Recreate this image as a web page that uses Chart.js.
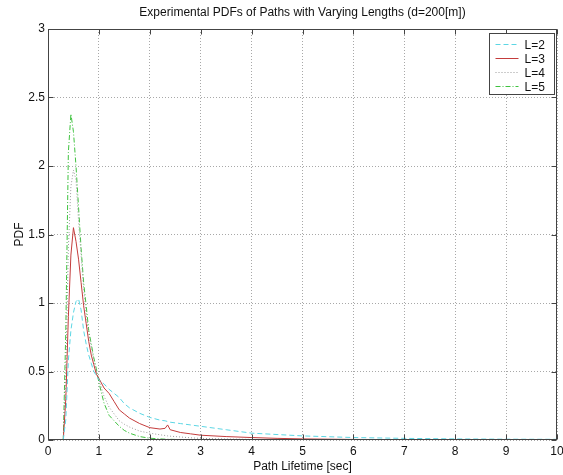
<!DOCTYPE html>
<html>
<head>
<meta charset="utf-8">
<script src="https://cdn.jsdelivr.net/npm/chart.js@4/dist/chart.umd.min.js"></script>
<style>
  html, body { margin: 0; padding: 0; background: #fff; }
  #wrap { width: 563px; height: 475px; }
</style>
</head>
<body>
<div id="wrap"><canvas id="chart-pdf" width="563" height="475"></canvas></div>
<script>
// ── Data ──────────────────────────────────────────────────────
const lifetime = [0.3, 0.35, 0.4, 0.45, 0.5, 0.55, 0.6, 0.65, 0.7, 0.75, 0.8, 0.85, 0.9, 0.95,
  1.0, 1.1, 1.2, 1.3, 1.4, 1.5, 1.6, 1.8, 2.0, 2.2, 2.3, 2.35, 2.4, 2.6, 2.8, 3.0,
  3.5, 4.0, 4.5, 5.0, 5.5, 6.0, 7.0, 8.0, 9.0, 10.0];

const pdfL2 = [0, 0.15, 0.58, 0.8, 0.93, 1.01, 1.03, 0.95, 0.8, 0.7, 0.62, 0.56, 0.5, 0.47,
  0.44, 0.41, 0.37, 0.34, 0.31, 0.265, 0.235, 0.195, 0.165, 0.145, 0.14, 0.135, 0.13, 0.12, 0.11, 0.1,
  0.075, 0.05, 0.04, 0.03, 0.024, 0.018, 0.012, 0.008, 0.006, 0.005];

const pdfL3 = [0, 0.3, 0.9, 1.35, 1.55, 1.45, 1.32, 1.15, 0.98, 0.85, 0.72, 0.62, 0.55, 0.48,
  0.45, 0.38, 0.34, 0.28, 0.22, 0.19, 0.16, 0.12, 0.09, 0.08, 0.085, 0.11, 0.075, 0.055, 0.045, 0.035,
  0.025, 0.018, 0.012, 0.008, 0.006, 0.004, 0.003, 0.002, 0.002, 0.001];

const pdfL4 = [0, 0.5, 1.4, 1.85, 1.97, 1.9, 1.6, 1.35, 1.1, 0.92, 0.78, 0.68, 0.58, 0.5,
  0.44, 0.32, 0.24, 0.19, 0.14, 0.115, 0.095, 0.065, 0.05, 0.038, 0.033, 0.03, 0.028, 0.022, 0.016, 0.012,
  0.007, 0.004, 0.003, 0.002, 0.001, 0.001, 0, 0, 0, 0];

const pdfL5 = [0, 0.8, 2.1, 2.38, 2.25, 2.0, 1.7, 1.4, 1.15, 0.98, 0.8, 0.7, 0.6, 0.52,
  0.42, 0.27, 0.18, 0.14, 0.1, 0.07, 0.05, 0.025, 0.013, 0.008, 0.006, 0.005, 0.005, 0.003, 0.002, 0.001,
  0, 0, 0, 0, 0, 0, 0, 0, 0, 0];

const seriesLabels = ['L=2', 'L=3', 'L=4', 'L=5'];
const xTicks = [0, 1, 2, 3, 4, 5, 6, 7, 8, 9, 10];
const yTicks = [0, 0.5, 1, 1.5, 2, 2.5, 3];

// ── Helpers ───────────────────────────────────────────────────
const FONT = "'Liberation Sans', Arial, sans-serif";
const points = ys => lifetime.map((x, i) => ({ x, y: ys[i] }));

// frame, inward ticks and boxed legend, MATLAB style
const axesBoxPlugin = {
  id: 'axesBox',
  afterDatasetsDraw(chart) {
    const { ctx, chartArea: a, scales } = chart;
    ctx.save();
    ctx.strokeStyle = '#444';
    ctx.lineWidth = 1;
    ctx.setLineDash([]);
    const L = Math.round(a.left) + 0.5, R = Math.round(a.right) - 0.5;
    const T = Math.round(a.top) + 0.5, B = Math.round(a.bottom) - 0.5;
    ctx.strokeRect(L, T, R - L, B - T);

    ctx.beginPath();
    xTicks.forEach(v => {
      const px = Math.round(scales.x.getPixelForValue(v)) + 0.5;
      ctx.moveTo(px, B); ctx.lineTo(px, B - 5);
      ctx.moveTo(px, T); ctx.lineTo(px, T + 5);
    });
    yTicks.forEach(v => {
      const py = Math.round(scales.y.getPixelForValue(v)) + 0.5;
      ctx.moveTo(L, py); ctx.lineTo(L + 5, py);
      ctx.moveTo(R, py); ctx.lineTo(R - 5, py);
    });
    ctx.stroke();

    // legend
    const bw = 65, bh = 61;
    const bx = Math.round(a.right) - 3 - bw + 0.5;
    const by = Math.round(a.top) + 4 + 0.5;
    ctx.fillStyle = '#fff';
    ctx.fillRect(bx, by, bw, bh);
    ctx.strokeRect(bx, by, bw, bh);
    ctx.font = '12px ' + FONT;
    ctx.textBaseline = 'middle';
    ctx.textAlign = 'left';
    chart.data.datasets.forEach((ds, i) => {
      const y = Math.round(by + 10 + i * 14.3) + 0.5;
      ctx.strokeStyle = ds.borderColor;
      ctx.setLineDash(ds.borderDash || []);
      ctx.beginPath();
      ctx.moveTo(bx + 6, y); ctx.lineTo(bx + 29, y);
      ctx.stroke();
      ctx.fillStyle = '#111';
      ctx.fillText(ds.label, bx + 35, y + 1);
    });
    ctx.restore();
  }
};

const lineSet = (label, ys, color, dash) => ({
  label,
  data: points(ys),
  borderColor: color,
  borderWidth: 1,
  borderDash: dash,
  pointRadius: 0,
  tension: 0,
  fill: false,
});

// ── Chart ─────────────────────────────────────────────────────
new Chart(document.getElementById('chart-pdf'), {
  type: 'line',
  data: {
    datasets: [
      lineSet(seriesLabels[0], pdfL2, '#5cd6e4', [5, 3]),
      lineSet(seriesLabels[1], pdfL3, '#c43c3c', []),
      lineSet(seriesLabels[2], pdfL4, '#9a9a9a', [1, 2]),
      lineSet(seriesLabels[3], pdfL5, '#3fc23f', [5, 2, 1, 2]),
    ]
  },
  options: {
    responsive: false,
    animation: false,
    devicePixelRatio: 1,
    layout: { padding: { left: 0, right: 6, top: 0, bottom: 0 } },
    plugins: {
      legend: { display: false },
      tooltip: { enabled: false },
      title: { display: false },
    },
    scales: {
      x: {
        type: 'linear',
        position: 'bottom',
        min: 0, max: 10,
        afterBuildTicks: s => { s.ticks = xTicks.map(v => ({ value: v })); },
        afterFit: s => { s.height = 35; s.paddingLeft = 0; s.paddingRight = 0; },
        ticks: {
          font: { family: FONT, size: 12 }, color: '#111', padding: 4, maxRotation: 0, autoSkip: false,
          callback: v => String(v)
        },
        grid: { color: '#a8a8a8', lineWidth: 1, drawTicks: false },
        border: { display: false, dash: [1, 2] },
        title: {
          display: true, text: 'Path Lifetime [sec]',
          font: { family: FONT, size: 12 }, color: '#111',
          padding: { top: 0, bottom: 1 }
        }
      },
      xTop: {
        type: 'linear',
        position: 'top',
        min: 0, max: 10,
        afterFit: s => { s.height = 29; s.paddingLeft = 0; s.paddingRight = 0; },
        ticks: { display: false },
        grid: { display: false, drawTicks: false },
        border: { display: false },
        title: {
          display: true, text: 'Experimental PDFs of Paths with Varying Lengths (d=200[m])',
          font: { family: FONT, size: 12 }, color: '#111',
          padding: { top: 5.8, bottom: 0 }
        }
      },
      y: {
        type: 'linear',
        min: 0, max: 3,
        afterBuildTicks: s => { s.ticks = yTicks.map(v => ({ value: v })); },
        afterFit: s => { s.width = 48; },
        ticks: {
          font: { family: FONT, size: 12 }, color: '#111', padding: 3,
          callback: v => String(v)
        },
        grid: { color: '#a8a8a8', lineWidth: 1, drawTicks: false },
        border: { display: false, dash: [1, 2] },
        title: {
          display: true, text: 'PDF',
          font: { family: FONT, size: 12 }, color: '#111',
          padding: { top: 12.8, bottom: 0 }
        }
      }
    }
  },
  plugins: [axesBoxPlugin]
});
</script>
</body>
</html>
